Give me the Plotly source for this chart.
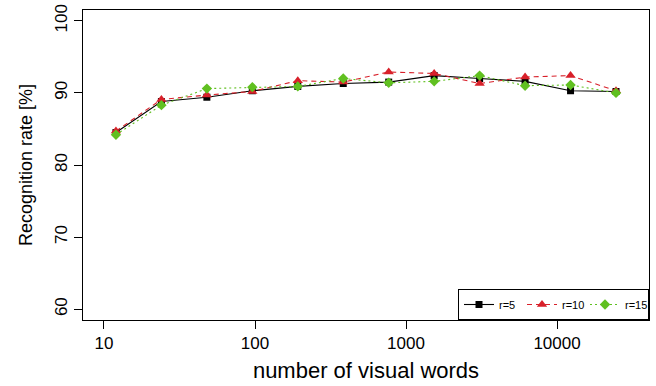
import plotly.graph_objects as go

words = [12, 24, 48, 96, 192, 384, 768, 1536, 3072, 6144, 12288, 24576]
r5 = [84.5, 88.8, 89.4, 90.3, 90.9, 91.3, 91.5, 92.4, 92.0, 91.6, 90.3, 90.2]
r10 = [84.7, 89.1, 89.7, 90.2, 91.7, 91.5, 92.9, 92.7, 91.3, 92.2, 92.4, 90.3]
r15 = [84.2, 88.3, 90.6, 90.8, 90.9, 92.0, 91.4, 91.6, 92.4, 91.0, 91.1, 90.0]

x_ticks = [10, 100, 1000, 10000]
y_ticks = [60, 70, 80, 90, 100]

fig = go.Figure()
fig.add_trace(go.Scatter(x=words, y=r5, name="r=5", mode="lines+markers",
                         line=dict(color="black", width=1.1),
                         marker=dict(symbol="square", size=7, color="black")))
fig.add_trace(go.Scatter(x=words, y=r10, name="r=10", mode="lines+markers",
                         line=dict(color="#D8202A", width=1.1, dash="5px,4px"),
                         marker=dict(symbol="triangle-up", size=9, color="#D8202A")))
fig.add_trace(go.Scatter(x=words, y=r15, name="r=15", mode="lines+markers",
                         line=dict(color="#60C020", width=1.1, dash="2px,3px"),
                         marker=dict(symbol="diamond", size=8, color="#60C020")))

fig.update_layout(
    width=656, height=386,
    margin=dict(l=83, r=7, t=10, b=66, autoexpand=False),
    paper_bgcolor="white", plot_bgcolor="white",
    font=dict(family="Liberation Sans, Arial, sans-serif", color="black", size=16),
    legend=dict(orientation="h", x=1, y=0, xanchor="right", yanchor="bottom",
                bgcolor="white", bordercolor="black", borderwidth=1,
                font=dict(size=11, color="black"), itemwidth=30, entrywidth=18,
                tracegroupgap=0),
    showlegend=True,
)
fig.update_xaxes(type="log", range=[0.861, 4.609], tickvals=x_ticks,
                 ticktext=[str(v) for v in x_ticks], automargin=False,
                 ticks="outside", ticklen=8, tickcolor="black",
                 showline=True, linecolor="black", linewidth=1, mirror=True,
                 showgrid=False, zeroline=False,
                 tickfont=dict(size=17),
                 title=dict(text="number of visual words", font=dict(size=22), standoff=10))
fig.update_yaxes(range=[58.5, 101.5], tickvals=y_ticks, automargin=False,
                 ticks="outside", ticklen=8, tickcolor="black", tickangle=-90,
                 showline=True, linecolor="black", linewidth=1, mirror=True,
                 showgrid=False, zeroline=False,
                 tickfont=dict(size=17),
                 title=dict(text="Recognition rate [%]", font=dict(size=18), standoff=14))

fig.write_html("out.html", config={"displayModeBar": False},
               post_script="document.body.style.margin='0';")
